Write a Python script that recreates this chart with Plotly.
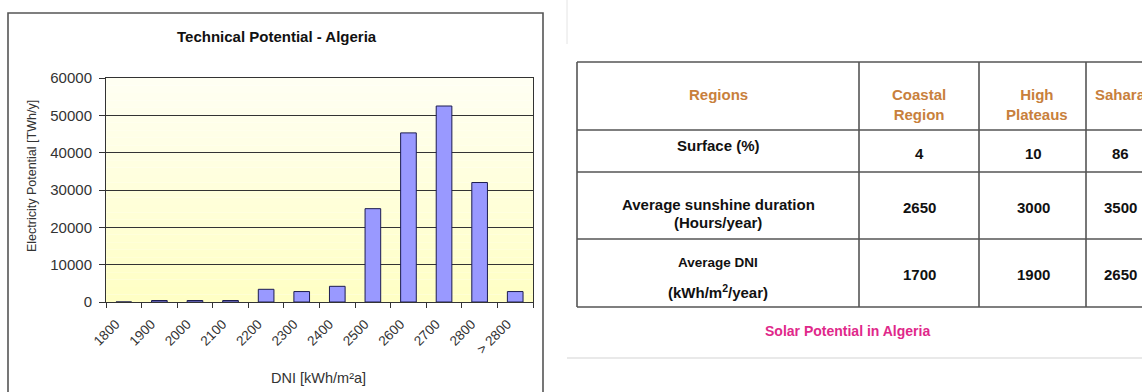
import plotly.graph_objects as go

# Technical potential by DNI class
dni_classes = ["1800", "1900", "2000", "2100", "2200", "2300", "2400",
               "2500", "2600", "2700", "2800", "> 2800"]
potential_twh = [0, 400, 400, 400, 3400, 2800, 4200,
                 25000, 45300, 52500, 32000, 2800]
y_ticks = [0, 10000, 20000, 30000, 40000, 50000, 60000]

# Solar potential table
table_header = ["Regions", "Coastal<br>Region", "High<br>Plateaus", "Sahara"]
row_labels = ["Surface (%)", "Average sunshine duration", "(Hours/year)",
              "Average DNI", "(kWh/m<sup>2</sup>/year)"]
surface_pct = ["4", "10", "86"]
sunshine_hours = ["2650", "3000", "3500"]
avg_dni = ["1700", "1900", "2650"]
table_caption = "Solar Potential in Algeria"

W, H = 1142, 392
L, R, T, B = 106, 533, 78, 302   # plot area in pixels


def px(x):
    return (x - L) / (R - L)


def py(y):
    return (B - y) / (B - T)


FONT = "Arial, Liberation Sans, sans-serif"

fig = go.Figure()
fig.add_trace(go.Bar(
    x=dni_classes, y=potential_twh,
    marker=dict(color="#9999FF", line=dict(color="#1c1c50", width=1)),
    hoverinfo="x+y",
))

shapes = []
# pale yellow gradient behind the bars
n_bands = 30
top_c, bot_c = (255, 255, 243), (255, 255, 196)
for i in range(n_bands):
    t = (i + 0.5) / n_bands
    c = tuple(round(top_c[k] + (bot_c[k] - top_c[k]) * t) for k in range(3))
    shapes.append(dict(type="rect", xref="paper", yref="paper",
                       x0=0, x1=1, y0=1 - (i + 1) / n_bands, y1=1 - i / n_bands,
                       fillcolor=f"rgb{c}", line=dict(width=0), layer="below"))

# chart frame
shapes.append(dict(type="rect", xref="paper", yref="paper",
                   x0=px(8), x1=px(543), y0=py(400), y1=py(13),
                   line=dict(color="#555555", width=1.6), fillcolor="rgba(0,0,0,0)"))

# table grid
col_x = [577, 859, 979, 1086]
row_y = [62, 130, 172, 239, 307]
line_style = dict(color="#555555", width=1.6)
for y in row_y:
    shapes.append(dict(type="line", xref="paper", yref="paper",
                       x0=px(col_x[0]), x1=px(1160), y0=py(y), y1=py(y), line=line_style))
for x in col_x:
    shapes.append(dict(type="line", xref="paper", yref="paper",
                       x0=px(x), x1=px(x), y0=py(row_y[0]), y1=py(row_y[-1]), line=line_style))

# faint page separators
shapes.append(dict(type="line", xref="paper", yref="paper",
                   x0=px(567), x1=px(1160), y0=py(358), y1=py(358),
                   line=dict(color="#d4d4d4", width=1.2)))
shapes.append(dict(type="line", xref="paper", yref="paper",
                   x0=px(567), x1=px(567), y0=py(0), y1=py(44),
                   line=dict(color="#e4e4e4", width=1)))

annotations = []


def label(text, x, y, size=15, color="#111111", bold=True, xanchor="center", angle=0):
    t = f"<b>{text}</b>" if bold else text
    annotations.append(dict(text=t, x=px(x), y=py(y), xref="paper", yref="paper",
                            showarrow=False, xanchor=xanchor, yanchor="middle",
                            textangle=angle, align="center",
                            font=dict(family=FONT, size=size, color=color)))


# chart titles
label("Technical Potential - Algeria", 277, 36, size=15, color="#111111")
label("Electricity Potential [TWh/y]", 32, 176, size=12.5, color="#333333", bold=False, angle=-90)
label("DNI [kWh/m²a]", 318, 378, size=14.5, color="#333333", bold=False)

# table text
orange = "#C8803C"
col_centers = [718, 919, 1033, 1120]
label(table_header[0], col_centers[0], 95, color=orange)
label(table_header[1], col_centers[1], 104, color=orange)
label(table_header[2], col_centers[2] + 4, 104, color=orange)
label(table_header[3], col_centers[3], 94, color=orange)

label(row_labels[0], col_centers[0], 145)
label(row_labels[1], col_centers[0], 204)
label(row_labels[2], col_centers[0], 222)
label(row_labels[3], col_centers[0], 262, size=13.5)
label(row_labels[4], col_centers[0], 291, size=15)

value_rows = [(surface_pct, 153), (sunshine_hours, 207), (avg_dni, 274)]
for values, y in value_rows:
    for j, v in enumerate(values):
        label(v, col_centers[j + 1], y, size=15)

label(table_caption, 847, 331, size=14, color="#E0288A")

fig.update_layout(
    width=W, height=H,
    margin=dict(l=L, r=W - R, t=T, b=H - B),
    paper_bgcolor="white",
    plot_bgcolor="rgba(0,0,0,0)",
    showlegend=False,
    bargap=0.56,
    shapes=shapes,
    annotations=annotations,
    font=dict(family=FONT, color="#222222"),
)
fig.update_xaxes(
    type="category", tickangle=-45, tickson="boundaries",
    ticks="outside", ticklen=5, tickcolor="#333333",
    ticklabelshift=-8, ticklabelstandoff=8,
    showline=True, linecolor="#333333", linewidth=1, mirror=True,
    showgrid=False, tickfont=dict(family=FONT, size=13.5, color="#333333"),
)
fig.update_yaxes(
    range=[0, 60000], tickvals=y_ticks, ticktext=[str(v) for v in y_ticks],
    ticks="outside", ticklen=6,
    tickcolor="#333333", ticklabelstandoff=4,
    showline=True, linecolor="#333333", linewidth=1, mirror=True,
    showgrid=True, gridcolor="#333333", gridwidth=1, zeroline=False,
    tickfont=dict(family=FONT, size=15, color="#333333"),
)

fig.write_html("out.html")
